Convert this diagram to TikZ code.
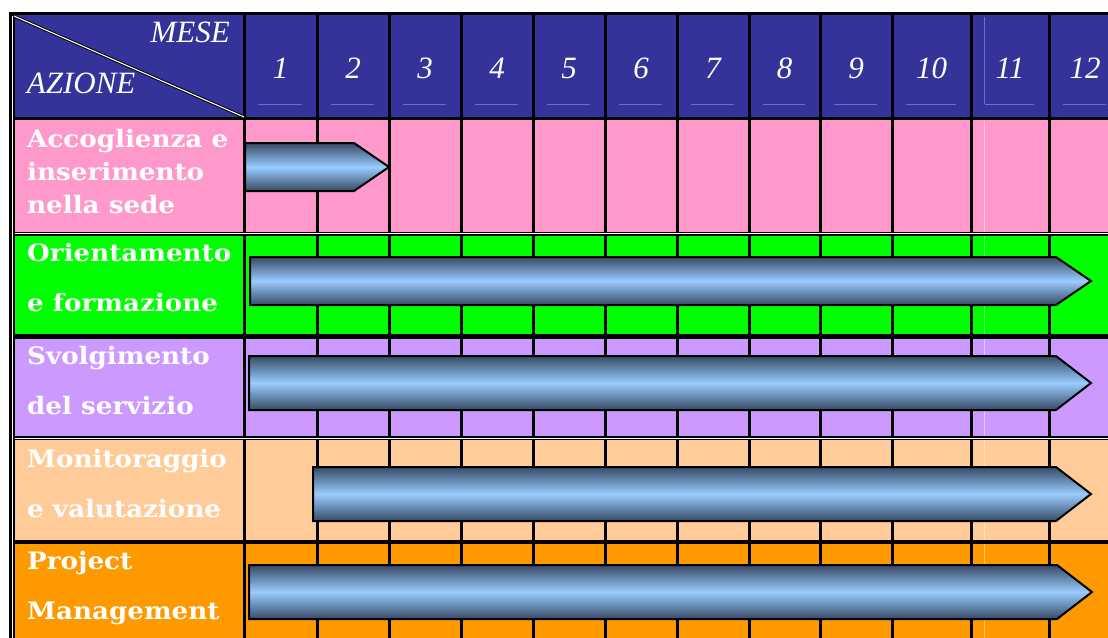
\documentclass[tikz,border=0pt]{standalone}
\usepackage{fontspec}
\newfontfamily\headfont{Liberation Serif}
\newfontfamily\labelfont[FakeStretch=1.09]{DejaVu Serif}

\definecolor{headblue}{RGB}{51,51,153}
\definecolor{rowpink}{RGB}{255,153,204}
\definecolor{rowgreen}{RGB}{0,255,0}
\definecolor{rowlilac}{RGB}{204,153,255}
\definecolor{rowpeach}{RGB}{255,204,153}
\definecolor{roworange}{RGB}{255,153,0}
\definecolor{bardark}{RGB}{55,74,100}
\definecolor{barlight}{RGB}{153,204,255}

\tikzset{
  monthlbl/.style={text=white, inner sep=0pt, anchor=base, font=\headfont\itshape\fontsize{31}{31}\selectfont},
  actlbl/.style={text=white, inner sep=0pt, anchor=base west, align=left, font=\labelfont\bfseries\fontsize{24}{50}\selectfont},
  ganttbar/.style={draw=black, line width=2pt, line join=miter, top color=bardark, bottom color=bardark, middle color=barlight},
  gridline/.style={line width=3pt},
  guide/.style={headblue!70!white, line width=0.8pt},
}

% bar: left end, end of body, top, bottom
\newcommand{\actbar}[4]{\draw[ganttbar] (#1,#3) -- (#2,#3) -- ({#2+35},{(#3+#4)/2}) -- (#2,#4) -- (#1,#4) -- cycle;}

\begin{document}
\begin{tikzpicture}[x=1pt,y=-1pt]
  \useasboundingbox (0,0) rectangle (1108,637);
  \clip (0,0) rectangle (1108,637);

  % row bands
  \fill[headblue] (14,15) rectangle (1130,118);
  \fill[rowpink] (14,118) rectangle (1130,234);
  \fill[rowgreen] (14,234) rectangle (1130,337);
  \fill[rowlilac] (14,337) rectangle (1130,438);
  \fill[rowpeach] (14,438) rectangle (1130,542);
  \fill[roworange] (14,542) rectangle (1130,650);

  % months
  \foreach \a/\b [count=\m] in {244/317,317/389,389/461,461/533,533/605,605/677,677/749,749/820,820/892,892/971,971/1049,1049/1121} {
    \node[monthlbl] (m\m) at ({(\a+\b)/2},78) {\m};
    \draw[guide] ({\a+14},104) -- ({\b-15},104);
  }
  \draw[guide] (984,17) -- (984,104);
  \draw[white, opacity=0.45, line width=0.8pt] (984,121) -- (984,640);

  % grid
  \foreach \x in {244,317,389,461,533,605,677,749,820,892,971,1049}
    \draw[gridline] (\x,15) -- (\x,650);
  \draw[line width=3pt] (9,13.6) -- (1130,13.6);
  \draw[line width=3pt] (9,118.5) -- (1130,118.5);
  \draw[line width=4.5pt] (9,233.8) -- (1130,233.8);
  \draw[white, line width=1.2pt] (14.7,233.8) -- (1130,233.8);
  \draw[line width=4.5pt] (9,336.3) -- (1130,336.3);
  \draw[line width=4pt] (9,438.3) -- (1130,438.3);
  \draw[white, line width=1.1pt] (14.7,438.3) -- (1130,438.3);
  \draw[line width=4pt] (9,542) -- (1130,542);
  \draw[line width=5.7pt] (11.85,12) -- (11.85,650);
  \draw[white, line width=1.1pt] (12.2,16) -- (12.2,650);

  % corner cell
  \draw[line width=3pt] (14,16) -- (244,117);
  \draw[white, line width=1.1pt] (14,16) -- (244,117);
  \node[monthlbl, anchor=base east] (mese) at (230,42.7) {MESE};
  \node[monthlbl, anchor=base west] (azione) at (26.7,93.3) {AZIONE};

  % actions (anchored at the baseline of the last line)
  \node[actlbl, font=\labelfont\bfseries\fontsize{24}{33}\selectfont] (acc) at (27,213) {Accoglienza e\\inserimento\\nella sede};
  \node[actlbl] (ori) at (27,311.7) {Orientamento\\e formazione};
  \node[actlbl] (svo) at (27,414) {Svolgimento\\del servizio};
  \node[actlbl] (mon) at (27,517) {Monitoraggio\\e valutazione};
  \node[actlbl] (pro) at (27,619) {Project\\Management};

  % bars
  \actbar{245}{354}{143}{191}
  \actbar{250}{1056}{257}{305}
  \actbar{249}{1056}{356}{410}
  \actbar{313}{1056}{467}{521}
  \actbar{249}{1057}{565}{619}
\end{tikzpicture}
\end{document}
